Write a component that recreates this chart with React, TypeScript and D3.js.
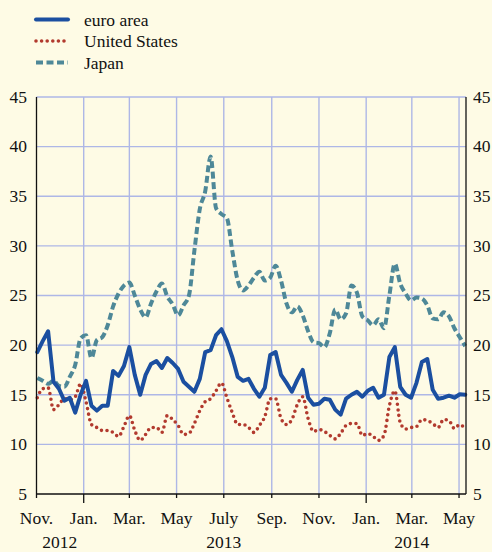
import React from 'react';
import * as d3 from 'd3';

// weekly readings, Nov. 2012 - May 2014
const euroArea = [
  19.3, 20.4, 21.4, 16.3, 15.6, 14.4, 14.7, 13.2, 15.0, 16.4,
  13.9, 13.4, 13.9, 13.9, 17.4, 16.9, 17.9, 19.8, 17.0, 15.0,
  17.0, 18.1, 18.4, 17.7, 18.7, 18.2, 17.6, 16.3, 15.8, 15.3,
  16.6, 19.3, 19.5, 21.0, 21.6, 20.4, 18.8, 16.8, 16.4, 16.6,
  15.6, 14.8, 15.7, 19.0, 19.3, 17.0, 16.2, 15.3, 16.5, 17.5,
  14.7, 14.0, 14.1, 14.6, 14.5, 13.5, 13.0, 14.6, 15.0, 15.3,
  14.8, 15.4, 15.7, 14.7, 15.0, 18.8, 19.8, 15.8, 15.0, 14.7,
  16.2, 18.3, 18.6, 15.5, 14.6, 14.7, 14.9, 14.7, 15.05, 15.0,
];

const unitedStates = [
  14.7, 15.6, 15.7, 13.5, 14.0, 14.6, 14.5, 14.8, 16.1, 14.3,
  12.0, 11.7, 11.4, 11.4, 11.2, 10.8, 11.8, 12.9, 11.4, 10.4,
  11.0, 11.7, 11.7, 11.2, 12.9, 12.5, 11.9, 11.0, 11.1, 12.1,
  13.4, 14.3, 14.6, 15.4, 16.2, 14.7, 13.2, 12.0, 12.0, 11.7,
  11.2, 11.9, 12.8, 14.6, 14.6, 12.6, 12.0, 12.5, 14.0, 14.8,
  12.6, 11.3, 11.5, 11.3, 10.9, 10.55, 11.1, 11.9, 12.1, 12.1,
  10.9, 11.1, 10.8, 10.4, 10.9, 13.9, 15.4, 12.2, 11.55, 11.7,
  11.8, 12.5, 12.4, 12.1, 11.7, 12.5, 12.4, 11.6, 12.0, 11.55,
];

const japan = [
  16.7, 16.4, 16.1, 16.4, 15.9, 15.8, 16.8, 18.0, 20.7, 21.0,
  18.7, 20.5, 20.8, 22.0, 23.9, 25.2, 26.0, 26.3, 25.0, 23.6,
  22.8, 24.2, 25.4, 26.2, 24.9, 24.1, 23.0, 24.0, 25.0, 29.5,
  33.7, 35.5, 39.0, 33.8, 33.2, 32.8, 29.5, 26.5, 25.5, 26.0,
  26.8, 27.4, 26.5, 26.8, 28.0, 26.5, 24.2, 23.3, 23.9, 23.0,
  21.4, 20.3, 20.2, 19.8, 21.2, 23.6, 22.6, 23.2, 26.0, 25.3,
  22.9, 22.5, 22.0, 22.6, 21.7, 25.0, 28.2, 26.2, 25.2, 24.5,
  24.8, 24.7, 24.0, 22.7, 22.6, 23.3, 22.9, 21.7, 20.8, 19.9,
];

const monthLabels = ['Nov.', 'Jan.', 'Mar.', 'May', 'July', 'Sep.', 'Nov.', 'Jan.', 'Mar.', 'May'];
const yearLabels = ['2012', '2013', '2014'];
const yearCentres = [new Date(Date.UTC(2012, 11, 1)), new Date(Date.UTC(2013, 6, 1)), new Date(Date.UTC(2014, 2, 1))];
const yTicks = [5, 10, 15, 20, 25, 30, 35, 40, 45];

const seriesNames = ['euro area', 'United States', 'Japan'];

const width = 492;
const height = 552;
const font = "'Liberation Serif', 'Times New Roman', serif";
const gridColor = '#AEB7E6';
const textStyle = { fontFamily: font, fontSize: '17.5px' };

const styles = {
  'euro area': { stroke: '#1B4FA0', width: 4, dash: null, cap: 'round' },
  'United States': { stroke: '#B23A2E', width: 3.6, dash: '0 5.6', cap: 'round' },
  'Japan': { stroke: '#4E8898', width: 4, dash: '7 3.5', cap: 'butt' },
};

export default function App() {
  const dates = euroArea.map((_, i) => new Date(Date.UTC(2012, 10, 2 + 7 * i)));

  const x = d3.scaleUtc()
    .domain([new Date(Date.UTC(2012, 10, 1)), new Date(Date.UTC(2014, 4, 10))])
    .range([36.5, 466]);
  const y = d3.scaleLinear().domain([5, 45]).range([494, 97]);

  const monthTicks = d3.utcMonth.every(2)!.range(new Date(Date.UTC(2012, 10, 1)), new Date(Date.UTC(2014, 4, 2)));

  const line = (vals: number[], curve: d3.CurveFactory) =>
    d3.line<number>()
      .x((_, i) => x(dates[i]))
      .y(d => y(d))
      .curve(curve)(vals) || '';

  const paths = {
    'Japan': line(japan, d3.curveMonotoneX),
    'United States': line(unitedStates, d3.curveMonotoneX),
    'euro area': line(euroArea, d3.curveLinear),
  };

  const [x0, x1] = x.range();

  return (
    <svg width={width} height={height} style={{ position: 'fixed', left: 0, top: 0 }}>
      <rect width={width} height={height} fill="#FEFBE5" />

      {/* legend */}
      {seriesNames.map((name, i) => {
        const s = styles[name];
        const ly = 19.5 + i * 21.5;
        return (
          <g key={name}>
            <line x1={36} x2={68} y1={ly} y2={ly} stroke={s.stroke} strokeWidth={s.width}
              strokeDasharray={s.dash || undefined} strokeLinecap={s.cap} />
            <text x={84} y={ly + 6} style={textStyle} fill="#111">{name}</text>
          </g>
        );
      })}

      {/* grid */}
      {yTicks.filter(t => t > 5).map(t => (
        <line key={'h' + t} x1={x0} x2={x1} y1={y(t)} y2={y(t)} stroke={gridColor} strokeWidth={1.4} />
      ))}
      {monthTicks.slice(1).map(d => (
        <line key={'v' + d.getTime()} x1={x(d)} x2={x(d)} y1={y(45)} y2={y(5)} stroke={gridColor} strokeWidth={1.4} />
      ))}

      {/* series */}
      {['Japan', 'United States', 'euro area'].map(name => {
        const s = styles[name];
        return (
          <path key={name} d={paths[name]} fill="none" stroke={s.stroke} strokeWidth={s.width}
            strokeDasharray={s.dash || undefined} strokeLinecap={s.cap} strokeLinejoin="round" />
        );
      })}

      {/* axes */}
      <line x1={x0} x2={x0} y1={y(45)} y2={y(5)} stroke="#111" strokeWidth={1.3} />
      <line x1={x1} x2={x1} y1={y(45)} y2={y(5)} stroke="#111" strokeWidth={1.3} />
      <line x1={x0} x2={x1} y1={y(5)} y2={y(5)} stroke="#111" strokeWidth={1.3} />
      {monthTicks.map(d => (
        <line key={'t' + d.getTime()} x1={x(d)} x2={x(d)} y1={y(5)}
          y2={y(5) + (d.getUTCMonth() === 0 ? 9 : 4)} stroke="#111" strokeWidth={1.3} />
      ))}

      {yTicks.map(t => (
        <g key={'yl' + t} fill="#111">
          <text x={27} y={y(t)} dy="0.33em" textAnchor="end" style={textStyle}>{t}</text>
          <text x={473} y={y(t)} dy="0.33em" textAnchor="start" style={textStyle}>{t}</text>
        </g>
      ))}

      {monthTicks.map((d, i) => (
        <text key={'ml' + i} x={x(d)} y={524} textAnchor="middle" style={textStyle} fill="#111">{monthLabels[i]}</text>
      ))}
      {yearLabels.map((label, i) => (
        <text key={label} x={x(yearCentres[i])} y={548} textAnchor="middle" style={textStyle} fill="#111">{label}</text>
      ))}
    </svg>
  );
}
